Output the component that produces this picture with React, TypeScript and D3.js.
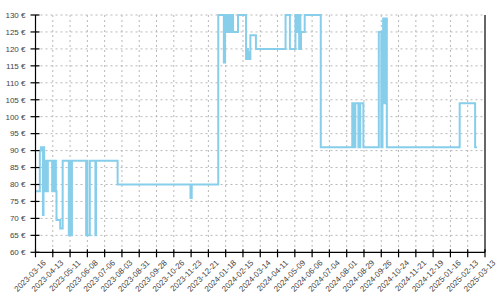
import React from "react";
import * as d3 from "d3";

const dates: string[] = [
  "2023-03-16","2023-03-23","2023-03-25","2023-03-28","2023-03-29","2023-03-30","2023-03-31",
  "2023-04-01","2023-04-02","2023-04-03","2023-04-04","2023-04-05","2023-04-12","2023-04-13",
  "2023-04-14","2023-04-15","2023-04-16","2023-04-17","2023-04-18","2023-04-19","2023-04-25",
  "2023-04-29","2023-05-09","2023-05-10","2023-05-11","2023-05-14","2023-06-06","2023-06-07",
  "2023-06-08","2023-06-12","2023-06-21","2023-06-22","2023-07-27","2023-11-22","2023-11-24",
  "2024-01-06","2024-01-15","2024-01-17","2024-01-19","2024-01-20","2024-01-22","2024-01-23",
  "2024-01-25","2024-01-26","2024-01-28","2024-01-29","2024-01-30","2024-02-07","2024-02-20",
  "2024-02-22","2024-02-23","2024-02-25","2024-02-26","2024-02-27","2024-03-07","2024-04-24",
  "2024-05-01","2024-05-10","2024-05-11","2024-05-12","2024-05-13","2024-05-15","2024-05-16",
  "2024-05-17","2024-05-18","2024-05-19","2024-05-25","2024-06-20","2024-08-10","2024-08-13",
  "2024-08-15","2024-08-20","2024-08-21","2024-08-22","2024-08-23","2024-08-28","2024-09-22",
  "2024-09-26","2024-09-28","2024-09-29","2024-10-01","2024-10-02","2024-10-05","2025-01-31",
  "2025-02-25","2025-02-28",
];

const prices: number[] = [
  78, 90, 91, 71, 91, 87, 78,
  87, 78, 87, 78, 87, 78, 87,
  78, 87, 78, 87, 78, 69.5, 67,
  87, 65, 87, 65, 87, 65, 87,
  65, 87, 65, 87, 80, 76, 80,
  130, 116, 130, 125, 130, 125, 130,
  125, 130, 125, 130, 125, 130, 117,
  120, 117, 119, 117, 124, 120, 130,
  120, 130, 125, 130, 125, 130, 120,
  130, 120, 125, 130, 91, 104, 91,
  104, 91, 104, 91, 104, 91, 125,
  91, 104, 129, 104, 129, 91, 104,
  91, 91,
];

const xTickLabels: string[] = [
  "2023-03-16","2023-04-13","2023-05-11","2023-06-08","2023-07-06","2023-08-03","2023-08-31",
  "2023-09-28","2023-10-26","2023-11-23","2023-12-21","2024-01-18","2024-02-15","2024-03-14",
  "2024-04-11","2024-05-09","2024-06-06","2024-07-04","2024-08-01","2024-08-29","2024-09-26",
  "2024-10-24","2024-11-21","2024-12-19","2025-01-16","2025-02-13","2025-03-13",
];

const yTicks: number[] = [60, 65, 70, 75, 80, 85, 90, 95, 100, 105, 110, 115, 120, 125, 130];

const parse = d3.utcParse("%Y-%m-%d");

export default function App() {
  const W = 500, H = 300;
  const left = 35.5, right = 485, top = 15, bottom = 252.3;
  const x = d3.scaleUtc()
    .domain([parse(xTickLabels[0])!, parse(xTickLabels[xTickLabels.length - 1])!])
    .range([left, right]);
  const y = d3.scaleLinear().domain([60, 130]).range([bottom, top]);

  const data = dates.map((d, i) => ({ t: parse(d)!, v: prices[i] }));
  const line = d3.line<{ t: Date; v: number }>()
    .x((d) => x(d.t))
    .y((d) => y(d.v))
    .curve(d3.curveStepAfter);

  const font = "'Liberation Sans', Arial, sans-serif";
  const grid = "#b8b8b8";

  return (
    <svg width={W} height={H} style={{ position: "absolute", left: 0, top: 0, background: "#fff" }}>
      {yTicks.filter((v) => v > 60).map((v) => (
        <line key={"gy" + v} x1={left} x2={right} y1={y(v)} y2={y(v)}
          stroke={grid} strokeWidth={1} strokeDasharray="2,3" />
      ))}
      {xTickLabels.slice(1, -1).map((s) => (
        <line key={"gx" + s} x1={x(parse(s)!)} x2={x(parse(s)!)} y1={top} y2={bottom}
          stroke={grid} strokeWidth={1} strokeDasharray="2,3" />
      ))}
      <path d={line(data) || ""} fill="none" stroke="#87ceeb" strokeWidth={2} />
      <line x1={left} x2={left} y1={top} y2={bottom} stroke="#000" strokeWidth={1.2} />
      <line x1={right} x2={right} y1={top} y2={bottom} stroke="#000" strokeWidth={1.2} />
      <line x1={left} x2={right} y1={bottom} y2={bottom} stroke="#000" strokeWidth={1.2} />
      {yTicks.map((v) => (
        <g key={"ty" + v}>
          <line x1={left - 5} x2={left + 4} y1={y(v)} y2={y(v)} stroke="#000" strokeWidth={1.2} />
          <text x={left - 10} y={y(v)} dy="0.35em" textAnchor="end" fontSize={8}
            fontFamily={font} fill="#444">{v + " €"}</text>
        </g>
      ))}
      {xTickLabels.map((s) => {
        const px = x(parse(s)!);
        return (
          <g key={"tx" + s}>
            <line x1={px} x2={px} y1={bottom - 3} y2={bottom + 5} stroke="#000" strokeWidth={1.2} />
            <text transform={`translate(${px + 11},${bottom + 11}) rotate(-45)`} textAnchor="end"
              fontSize={8} fontFamily={font} fill="#444">{s}</text>
          </g>
        );
      })}
    </svg>
  );
}
